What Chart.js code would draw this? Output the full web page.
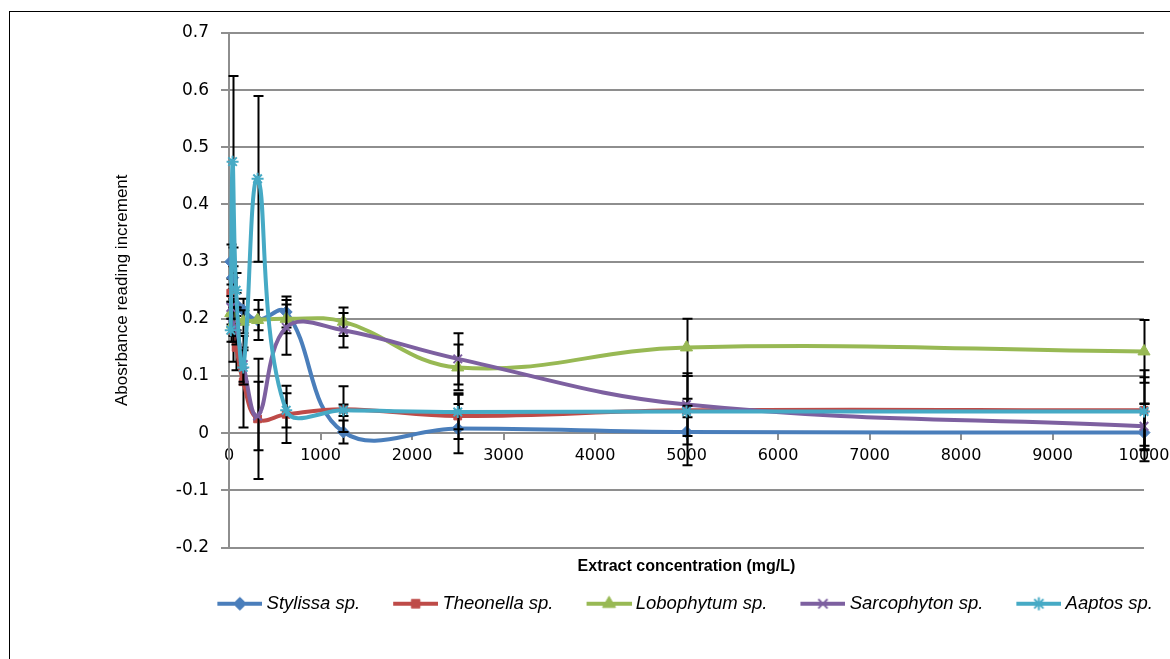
<!DOCTYPE html>
<html>
<head>
<meta charset="utf-8">
<title>Absorbance reading increment</title>
<script src="https://cdn.jsdelivr.net/npm/chart.js@4.4.0/dist/chart.umd.min.js"></script>
<style>
  body { margin: 0; background: #fff; }
  #wrap { position: relative; width: 1170px; height: 659px; overflow: hidden; background: #fff; }
  #frame { position: absolute; left: 9px; top: 11px; width: 1200px; height: 700px; border-left: 1px solid #000; border-top: 1px solid #000; }
  canvas { position: absolute; left: 0; top: 0; }
</style>
</head>
<body>
<div id="wrap">
  <div id="frame"></div>
  <canvas id="chart" width="1170" height="659"></canvas>
</div>
<script>
// concentrations (mg/L)
const concentrations = [19.5, 39, 78, 156, 312.5, 625, 1250, 2500, 5000, 10000];

// mean absorbance increments
const stylissa    = [0.300, 0.272, 0.225, 0.215, 0.198, 0.212, 0.002, 0.008, 0.002, 0.001];
const theonella   = [0.245, 0.180, 0.150, 0.090, 0.025, 0.033, 0.042, 0.030, 0.040, 0.040];
const lobophytum  = [0.210, 0.190, 0.200, 0.195, 0.198, 0.200, 0.195, 0.115, 0.150, 0.143];
const sarcophyton = [0.220, 0.190, 0.185, 0.120, 0.030, 0.185, 0.180, 0.130, 0.050, 0.012];
const aaptos      = [0.180, 0.475, 0.250, 0.115, 0.445, 0.040, 0.040, 0.037, 0.038, 0.038];

// error bar half widths
const stylissaErr    = [0.030, 0.020, 0.020, 0.020, 0.018, 0.027, 0.020, 0.043, 0.058, 0.050];
const theonellaErr   = [0.015, 0.055, 0.040, 0.080, 0.105, 0.050, 0.040, 0.040, 0.060, 0.070];
const lobophytumErr  = [0.020, 0.020, 0.020, 0.020, 0.035, 0.025, 0.025, 0.040, 0.050, 0.055];
const sarcophytonErr = [0.020, 0.030, 0.030, 0.030, 0.060, 0.048, 0.030, 0.045, 0.055, 0.040];
const aaptosErr      = [0.020, 0.150, 0.030, 0.030, 0.145, 0.030, 0.010, 0.030, 0.010, 0.060];

const seriesNames = ['Stylissa sp.', 'Theonella sp.', 'Lobophytum sp.', 'Sarcophyton sp.', 'Aaptos sp.'];
const seriesValues = [stylissa, theonella, lobophytum, sarcophyton, aaptos];
const seriesErrors = [stylissaErr, theonellaErr, lobophytumErr, sarcophytonErr, aaptosErr];
const seriesColors = ['#4a7ebb', '#be4b48', '#98b954', '#7d60a0', '#46aac5'];
const seriesMarkers = ['rectRot', 'rect', 'triangle', 'crossRot', 'star'];
const markerSizes = [6, 5.5, 7, 6, 6];

const yTicks = { min: -0.2, max: 0.7, step: 0.1 };
const xTicks = { min: 0, max: 10000, step: 1000 };

const gridColor = '#8e8e8e';
const tickFont = { family: 'DejaVu Sans', size: 16 };

// legend picture: line + marker, drawn a bit wider than its box so it sits close to the text
const ICON_BOX = 73;
function legendIcon(i) {
  const c = document.createElement('canvas');
  c.width = ICON_BOX + 10; c.height = 20;
  const g = c.getContext('2d');
  const x0 = 5 + 33, x1 = 5 + 78;
  g.strokeStyle = seriesColors[i];
  g.fillStyle = seriesColors[i];
  g.lineWidth = 4;
  g.beginPath();
  g.moveTo(x0, 10);
  g.lineTo(x1, 10);
  g.stroke();
  const bw = (seriesMarkers[i] === 'crossRot' || seriesMarkers[i] === 'star') ? 2 : 1;
  g.lineWidth = bw;
  Chart.helpers.drawPoint(g, { pointStyle: seriesMarkers[i], radius: markerSizes[i] + 0.5, rotation: 0, borderWidth: bw }, (x0 + x1) / 2, 10);
  return c;
}
const legendIcons = seriesNames.map((n, i) => legendIcon(i));

const errorBars = {
  id: 'errorBars',
  beforeDatasetDraw(chart, args) {
    const i = args.index;
    const ctx = chart.ctx;
    const xs = chart.scales.x, ys = chart.scales.y;
    ctx.save();
    ctx.strokeStyle = '#000';
    ctx.lineWidth = 2;
    concentrations.forEach((c, j) => {
      const px = Math.round(xs.getPixelForValue(c)) + 0.5;
      const v = seriesValues[i][j], e = seriesErrors[i][j];
      const top = ys.getPixelForValue(v + e), bot = ys.getPixelForValue(v - e);
      ctx.beginPath();
      ctx.moveTo(px, top); ctx.lineTo(px, bot);
      ctx.moveTo(px - 5, top); ctx.lineTo(px + 5, top);
      ctx.moveTo(px - 5, bot); ctx.lineTo(px + 5, bot);
      ctx.stroke();
    });
    ctx.restore();
  }
};

const datasets = seriesNames.map((name, i) => ({
  label: name,
  data: concentrations.map((c, j) => ({ x: c, y: seriesValues[i][j] })),
  borderColor: seriesColors[i],
  backgroundColor: seriesColors[i],
  borderWidth: 4,
  tension: 0.4,
  pointStyle: seriesMarkers[i],
  pointRadius: markerSizes[i],
  pointBorderWidth: (seriesMarkers[i] === 'crossRot' || seriesMarkers[i] === 'star') ? 2 : 1,
  pointBackgroundColor: seriesColors[i],
  pointBorderColor: seriesColors[i],
  order: 5 - i,
  clip: false
}));

new Chart(document.getElementById('chart'), {
  type: 'line',
  data: { datasets: datasets },
  options: {
    responsive: false,
    animation: false,
    events: [],
    layout: { padding: { left: 0, right: 17, top: 33, bottom: 36 } },
    scales: {
      x: {
        type: 'linear',
        position: { y: 0 },
        min: xTicks.min,
        max: xTicks.max,
        ticks: { stepSize: xTicks.step, color: '#000', font: tickFont, padding: 7, maxRotation: 0, autoSkip: false,
          callback: v => String(v) },
        grid: { drawOnChartArea: false, color: gridColor, lineWidth: 2, tickLength: 6 },
        border: { color: gridColor, width: 2 },
        afterFit(scale) { scale.paddingLeft = 0; scale.paddingRight = 0; }
      },
      y: {
        min: yTicks.min,
        max: yTicks.max,
        ticks: { stepSize: yTicks.step, color: '#000', font: { family: 'DejaVu Sans', size: 17 }, padding: 12,
          callback: v => String(Math.round(v * 10) / 10) },
        grid: { color: gridColor, lineWidth: 2, tickLength: 8 },
        border: { color: gridColor, width: 2 },
        title: { display: true, text: 'Abosrbance reading increment', color: '#000',
          font: { family: 'Liberation Sans', size: 17 }, padding: { top: 112, bottom: 0 } },
        afterFit(scale) { scale.width = 229; }
      },
      // empty right-hand strip so the legend can reach past the plot edge
      yRight: {
        position: 'right',
        display: true,
        ticks: { display: false },
        grid: { display: false },
        border: { display: false },
        afterFit(scale) { scale.width = 9; }
      }
    },
    plugins: {
      title: {
        display: true,
        position: 'bottom',
        fullSize: false,
        weight: 500,
        text: 'Extract concentration (mg/L)',
        color: '#000',
        font: { family: 'Liberation Sans', size: 16, weight: 'bold' },
        padding: { top: 9.4, bottom: 18.4 }
      },
      legend: {
        position: 'bottom',
        align: 'end',
        labels: {
          usePointStyle: true,
          pointStyleWidth: ICON_BOX,
          padding: 0,
          color: '#000',
          font: { family: 'Liberation Sans', size: 18.5, style: 'italic' },
          generateLabels(chart) {
            const items = Chart.defaults.plugins.legend.labels.generateLabels(chart);
            items.sort((a, b) => a.datasetIndex - b.datasetIndex);
            items.forEach(it => { it.pointStyle = legendIcons[it.datasetIndex]; });
            return items;
          }
        }
      },
      tooltip: { enabled: false }
    }
  },
  plugins: [errorBars]
});
</script>
</body>
</html>
